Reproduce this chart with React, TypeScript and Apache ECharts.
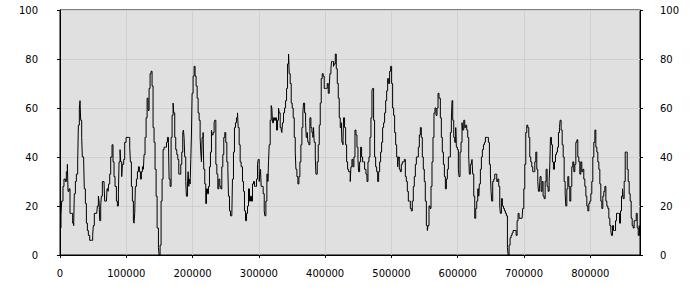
import React, { useEffect, useRef } from "react";
import * as echarts from "echarts";

// x positions (in thousands of units) and values
const positionK: number[] = [
  0, 1.5, 2.5, 4.5, 6.0, 8.1, 9.6, 11.1, 12.1, 13.6, 15.1, 17.1, 19.1, 20.6, 21.6, 23.2, 24.7, 26.7, 27.7, 29.2,
  30.2, 31.2, 32.7, 33.7, 35.7, 36.7, 38.3, 39.8, 41.3, 42.8, 44.8, 47.8, 49.3, 50.3, 51.8, 55.4, 56.4, 57.9, 58.9, 59.9,
  61.4, 62.4, 63.9, 66.4, 67.4, 70.0, 71.0, 72.5, 73.5, 75.0, 76.5, 78.5, 80.0, 81.5, 83.0, 85.1, 86.6, 88.1, 89.1, 90.6,
  91.6, 93.1, 94.1, 96.1, 97.6, 99.7, 103.7, 105.2, 106.2, 107.7, 109.2, 110.7, 111.7, 112.7, 113.7, 115.3, 116.8, 118.3, 119.8, 121.3,
  122.8, 124.3, 125.8, 126.8, 128.3, 129.9, 131.4, 132.9, 134.4, 135.9, 137.4, 138.9, 140.4, 141.9, 143.4, 145.0, 146.5, 148.5, 149.5, 151.0,
  152.5, 154.0, 155.5, 157.0, 159.0, 160.6, 162.1, 163.6, 164.6, 166.1, 167.6, 169.1, 170.6, 171.6, 173.1, 174.6, 176.2, 177.7, 179.2, 180.7,
  182.2, 183.7, 185.2, 186.2, 187.2, 188.2, 189.7, 190.7, 192.3, 193.3, 194.3, 195.3, 196.3, 197.3, 198.3, 199.3, 200.8, 202.3, 203.8, 205.3,
  206.9, 208.4, 209.9, 211.4, 212.4, 213.4, 214.4, 215.9, 216.9, 218.4, 219.9, 221.0, 222.5, 224.0, 225.5, 227.0, 228.5, 229.5, 231.0, 232.5,
  233.5, 235.1, 236.6, 238.1, 239.6, 241.1, 242.6, 244.1, 245.6, 247.1, 248.6, 250.1, 251.7, 253.2, 254.2, 255.7, 257.2, 259.2, 260.2, 261.7,
  263.2, 264.7, 266.2, 267.8, 268.8, 270.3, 271.8, 273.3, 275.3, 276.8, 278.3, 279.9, 281.4, 282.9, 284.4, 285.9, 287.4, 288.9, 290.4, 291.9,
  293.5, 295.0, 296.5, 298.0, 299.0, 300.5, 301.5, 302.5, 303.5, 305.0, 306.5, 308.1, 309.1, 310.6, 312.1, 313.6, 314.6, 315.6, 317.1, 318.6,
  319.6, 320.6, 322.1, 323.7, 325.2, 326.7, 328.2, 329.7, 330.7, 332.2, 333.7, 334.7, 335.7, 337.2, 338.8, 340.3, 341.8, 343.3, 344.8, 345.8,
  347.3, 348.8, 350.3, 351.8, 353.4, 354.9, 355.9, 357.4, 358.9, 360.4, 361.9, 363.4, 364.9, 366.4, 367.4, 369.0, 370.5, 371.5, 373.0, 374.0,
  375.5, 377.0, 378.5, 380.0, 381.5, 382.5, 383.5, 385.1, 386.1, 387.1, 388.1, 389.6, 391.1, 392.6, 394.1, 395.6, 397.1, 398.6, 400.2, 401.7,
  403.2, 404.7, 406.2, 407.2, 408.7, 409.7, 411.2, 412.7, 413.7, 415.3, 416.8, 418.3, 419.8, 421.3, 422.8, 424.3, 425.3, 426.8, 427.8, 429.3,
  430.9, 432.4, 433.9, 435.4, 437.9, 438.9, 440.4, 441.9, 443.4, 445.0, 446.5, 448.0, 449.5, 450.5, 452.0, 453.5, 455.0, 456.5, 458.0, 459.5,
  461.6, 463.1, 464.6, 466.1, 467.6, 469.1, 470.6, 471.6, 473.1, 474.6, 476.2, 477.7, 479.2, 480.7, 482.2, 483.7, 485.2, 486.7, 488.2, 489.7,
  491.3, 492.8, 494.3, 495.8, 497.3, 498.8, 500.3, 501.8, 503.3, 504.8, 506.4, 507.9, 509.4, 510.4, 511.9, 513.4, 514.9, 516.4, 517.9, 519.4,
  521.0, 522.5, 524.0, 525.5, 527.0, 528.5, 530.0, 531.5, 533.0, 534.5, 536.1, 537.6, 539.1, 540.6, 542.1, 543.6, 545.1, 546.6, 548.1, 549.6,
  551.1, 552.7, 554.2, 555.2, 556.7, 558.2, 559.7, 561.2, 562.7, 564.2, 565.7, 567.3, 568.8, 570.3, 571.8, 573.8, 575.3, 576.8, 578.4, 579.9,
  581.4, 582.9, 584.4, 585.9, 587.4, 588.9, 590.4, 591.4, 592.5, 594.0, 595.5, 597.0, 598.0, 599.5, 601.0, 602.0, 603.5, 605.0, 606.5, 607.5,
  609.1, 610.6, 612.1, 613.6, 615.1, 616.6, 617.6, 619.1, 620.6, 621.6, 622.6, 624.2, 625.7, 627.2, 628.7, 630.2, 631.7, 632.7, 634.2, 635.7,
  637.2, 638.8, 640.3, 641.8, 644.8, 646.3, 647.8, 649.3, 650.3, 651.3, 652.8, 654.4, 655.9, 657.4, 658.9, 660.4, 661.9, 663.4, 664.4, 665.9,
  667.4, 669.0, 670.5, 672.0, 673.5, 675.0, 676.0, 677.5, 679.0, 680.5, 682.0, 683.5, 686.6, 688.1, 689.6, 691.1, 692.6, 697.1, 698.1, 699.7,
  701.2, 702.7, 704.2, 705.7, 707.2, 708.7, 710.2, 711.7, 713.2, 714.8, 716.3, 717.8, 719.3, 720.8, 721.8, 723.3, 724.3, 725.8, 727.3, 728.8,
  730.4, 731.9, 733.4, 734.9, 736.4, 737.9, 738.9, 739.9, 741.4, 742.9, 744.4, 746.0, 747.5, 749.0, 750.5, 752.0, 753.5, 754.5, 756.0, 757.6,
  759.1, 760.6, 762.1, 763.1, 764.6, 766.1, 767.6, 769.1, 770.6, 772.1, 773.6, 775.1, 776.7, 778.2, 779.7, 781.2, 782.7, 784.2, 785.7, 787.2,
  788.7, 790.2, 791.8, 793.3, 794.8, 796.3, 797.8, 799.3, 800.8, 802.3, 803.8, 805.3, 806.9, 808.4, 809.9, 811.4, 812.9, 814.4, 815.9, 817.4,
  818.9, 820.4, 822.0, 823.5, 825.0, 826.5, 828.0, 829.5, 831.0, 832.0, 833.5, 835.0, 836.6, 838.1, 839.6, 842.6, 844.1, 845.6, 847.1, 848.6,
  849.6, 851.1, 852.7, 854.2, 855.7, 857.2, 858.7, 860.2, 861.7, 863.2, 864.7, 866.2, 867.8, 869.3, 870.8, 872.3, 873.8, 874.8,
];

const values: number[] = [
  11, 16, 22, 28, 31, 30, 34, 37, 26, 27, 17, 17, 13, 12, 25, 30, 33, 38, 53, 60,
  63, 55, 48, 40, 38, 27, 21, 13, 10, 8, 6, 6, 8, 12, 17, 17, 20, 24, 22, 14,
  20, 24, 30, 30, 22, 22, 27, 26, 29, 33, 40, 45, 38, 32, 28, 22, 20, 25, 38, 43,
  38, 32, 37, 39, 46, 48, 48, 44, 38, 28, 22, 14, 13, 17, 28, 31, 34, 36, 34, 31,
  34, 36, 35, 41, 48, 56, 64, 59, 68, 74, 75, 69, 52, 46, 35, 24, 11, 3, 0, 4,
  22, 31, 43, 44, 44, 46, 48, 46, 31, 28, 48, 57, 62, 58, 48, 43, 41, 39, 33, 33,
  37, 42, 50, 51, 48, 40, 30, 24, 29, 34, 28, 31, 29, 39, 49, 66, 73, 77, 73, 69,
  64, 58, 55, 48, 42, 38, 48, 50, 35, 29, 21, 27, 25, 28, 36, 42, 51, 49, 50, 54,
  55, 37, 33, 27, 31, 28, 27, 36, 41, 48, 50, 46, 38, 35, 24, 18, 16, 16, 31, 42,
  52, 54, 56, 58, 52, 45, 38, 36, 30, 26, 18, 14, 17, 20, 27, 22, 24, 22, 29, 30,
  28, 28, 31, 37, 39, 30, 33, 35, 28, 28, 25, 18, 16, 22, 33, 30, 38, 45, 55, 61,
  60, 54, 56, 55, 56, 51, 55, 60, 58, 52, 51, 50, 54, 58, 60, 63, 68, 78, 82, 74,
  70, 62, 60, 56, 48, 42, 35, 32, 29, 32, 38, 45, 52, 58, 62, 58, 54, 48, 50, 46,
  45, 56, 52, 50, 48, 52, 46, 40, 33, 33, 38, 45, 53, 62, 72, 74, 73, 68, 68, 68,
  70, 66, 69, 74, 76, 79, 79, 77, 78, 82, 76, 70, 64, 56, 52, 54, 46, 45, 56, 52,
  45, 38, 35, 34, 30, 36, 39, 36, 40, 51, 49, 44, 39, 34, 38, 44, 40, 38, 38, 35,
  33, 30, 38, 40, 48, 56, 67, 68, 55, 40, 36, 34, 30, 34, 38, 42, 46, 52, 54, 58,
  63, 67, 72, 70, 75, 77, 70, 60, 57, 50, 45, 40, 36, 40, 35, 34, 37, 38, 38, 39,
  32, 30, 26, 22, 22, 19, 18, 22, 28, 32, 37, 40, 40, 44, 49, 52, 48, 40, 35, 30,
  22, 12, 10, 12, 20, 19, 28, 38, 48, 58, 60, 57, 60, 66, 64, 56, 48, 42, 37, 32,
  27, 31, 35, 40, 40, 50, 55, 63, 55, 48, 46, 52, 44, 43, 35, 32, 42, 46, 54, 51,
  55, 52, 53, 51, 48, 40, 33, 37, 38, 39, 33, 24, 15, 19, 22, 27, 24, 29, 35, 40,
  43, 45, 46, 48, 48, 46, 37, 33, 26, 22, 30, 31, 33, 33, 30, 31, 28, 20, 17, 23,
  20, 19, 18, 17, 16, 3, 0, 4, 7, 8, 9, 10, 10, 8, 14, 17, 15, 15, 19, 27,
  37, 50, 53, 52, 48, 40, 38, 36, 34, 34, 38, 42, 35, 30, 26, 27, 32, 26, 30, 24,
  23, 30, 35, 28, 26, 30, 36, 48, 45, 38, 35, 38, 41, 42, 44, 50, 52, 55, 51, 45,
  40, 30, 25, 20, 27, 32, 28, 22, 28, 36, 38, 34, 37, 46, 47, 40, 38, 33, 38, 34,
  35, 31, 28, 24, 20, 18, 21, 22, 25, 30, 40, 46, 51, 44, 42, 38, 35, 29, 22, 19,
  24, 26, 28, 22, 20, 19, 15, 12, 10, 8, 12, 10, 10, 14, 17, 17, 13, 18, 24, 27,
  23, 30, 42, 42, 35, 30, 25, 22, 15, 12, 11, 14, 14, 17, 11, 8, 12, 8,
];

const yTicks = [0, 20, 40, 60, 80, 100];
const xMaxUnits = 875000;
const xStep = 100000;

export default function App() {
  const ref = useRef<HTMLDivElement>(null);
  useEffect(() => {
    document.body.style.margin = "0";
    if (!ref.current) return;
    const chart = echarts.init(ref.current, undefined, { renderer: "svg" });
    const data = positionK.map((k, i) => [Math.round(k * 1000), values[i]]);
    const font = { fontFamily: "DejaVu Sans", fontSize: 10, color: "#000" };
    const yAxisBase = {
      type: "value" as const,
      min: yTicks[0],
      max: yTicks[yTicks.length - 1],
      interval: 20,
      axisLine: { show: true, lineStyle: { color: "#000", width: 1 } },
      axisTick: { show: true, length: 3, lineStyle: { color: "#000" } },
      splitLine: { show: true, lineStyle: { color: "#d0d0d0", width: 1 } },
    };
    chart.setOption({
      animation: false,
      backgroundColor: "#fff",
      grid: {
        left: 60,
        right: 60,
        top: 10,
        bottom: 45,
        show: true,
        backgroundColor: "#e0e0e0",
        borderColor: "#000",
        borderWidth: 1,
      },
      xAxis: {
        type: "value",
        min: 0,
        max: xMaxUnits,
        interval: xStep,
        axisLine: { show: true, onZero: false, lineStyle: { color: "#000" } },
        axisTick: { show: true, length: 3, lineStyle: { color: "#000" } },
        axisLabel: { ...font, margin: 13, formatter: (v: number) => String(v), showMaxLabel: false },
        splitLine: { show: true, lineStyle: { color: "#d0d0d0", width: 1 } },
      },
      yAxis: [
        { ...yAxisBase, position: "left", axisLabel: { ...font, margin: 22 } },
        { ...yAxisBase, position: "right", axisLabel: { ...font, margin: 20, align: "left" } },
      ],
      series: [
        {
          type: "line",
          step: "end",
          data,
          yAxisIndex: 0,
          showSymbol: false,
          symbol: "none",
          lineStyle: { color: "#000", width: 1 },
        },
      ],
    });
    return () => chart.dispose();
  }, []);
  return <div ref={ref} style={{ width: 700, height: 300 }} />;
}
